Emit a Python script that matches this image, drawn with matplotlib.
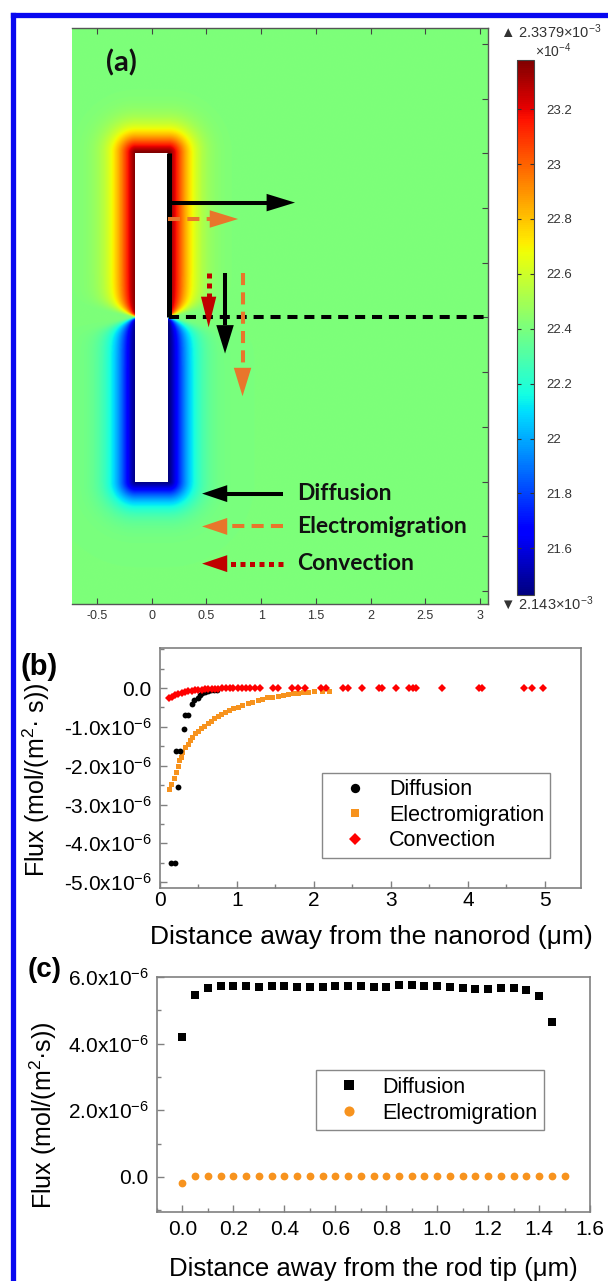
import numpy as np
import matplotlib
matplotlib.use("Agg")
import matplotlib.pyplot as plt
from matplotlib.patches import Rectangle, Polygon
from matplotlib.lines import Line2D
from matplotlib.ticker import MultipleLocator

plt.rcParams['font.family'] = ['Liberation Sans', 'DejaVu Sans']
plt.rcParams['mathtext.default'] = 'regular'

W, H = 608, 1281

# ---- panel (a): concentration map (x1e-4 mol/m3) ----
c_min, c_max, c_mid = 21.43, 23.379, 22.405
rod_w, rod_h = 0.15, 1.5          # half width / half height of the nanorod
halo = 0.17                        # decay length of the halo
cbar_ticks = [21.6, 21.8, 22.0, 22.2, 22.4, 22.6, 22.8, 23.0, 23.2]
cbar_labels = ['21.6', '21.8', '22', '22.2', '22.4', '22.6', '22.8', '23', '23.2']
xticks_a = [-0.5, 0, 0.5, 1, 1.5, 2, 2.5, 3]
xlabels_a = ['-0.5', '0', '0.5', '1', '1.5', '2', '2.5', '3']

# flux arrows drawn on the map: tail x, tail y, tip x, tip y
arr_diff = [(0.15, 1.05, 1.31, 1.05), (0.67, 0.41, 0.67, -0.33)]
arr_elec = [(0.15, 0.90, 0.79, 0.90), (0.83, 0.41, 0.83, -0.72)]
arr_conv = [(0.52, 0.41, 0.52, -0.09)]
leg_a_names = ['Diffusion', 'Electromigration', 'Convection']
leg_a_y = [-1.61, -1.91, -2.25]

# ---- panel (b): flux vs distance from nanorod (x1e-6) ----
diff_b_x = [0.14, 0.19, 0.23, 0.21, 0.26, 0.31, 0.32, 0.37, 0.41, 0.44, 0.49,
            0.52, 0.55, 0.59, 0.62, 0.66, 0.70, 0.74]
diff_b_y = [-4.50, -4.50, -2.54, -1.62, -1.62, -1.06, -0.69, -0.69, -0.42, -0.30,
            -0.26, -0.17, -0.13, -0.10, -0.08, -0.06, -0.05, -0.04]
elec_b_x = [0.12, 0.14, 0.18, 0.21, 0.23, 0.25, 0.27, 0.29, 0.33, 0.36, 0.39, 0.42,
            0.46, 0.49, 0.53, 0.57, 0.62, 0.66, 0.70, 0.75, 0.79, 0.85, 0.90, 0.95,
            1.01, 1.07, 1.14, 1.20, 1.27, 1.33, 1.39, 1.46, 1.53, 1.60, 1.66, 1.73,
            1.79, 1.86, 1.92, 2.00, 2.10, 2.20]
elec_b_y = [-2.60, -2.47, -2.31, -2.16, -2.02, -1.86, -1.77, -1.65, -1.53, -1.43,
            -1.34, -1.26, -1.17, -1.10, -1.04, -0.97, -0.91, -0.84, -0.78, -0.72,
            -0.67, -0.62, -0.56, -0.52, -0.48, -0.43, -0.39, -0.35, -0.30, -0.28,
            -0.24, -0.23, -0.20, -0.18, -0.16, -0.14, -0.13, -0.11, -0.10, -0.09,
            -0.08, -0.07]
conv_b_x = [0.12, 0.15, 0.19, 0.24, 0.28, 0.32, 0.37, 0.41, 0.45, 0.50, 0.54, 0.58,
            0.63, 0.67, 0.71, 0.76, 0.80, 0.86, 0.91, 0.95, 1.01, 1.06, 1.12, 1.17,
            1.23, 1.30, 1.47, 1.53, 1.71, 1.79, 1.88, 2.09, 2.16, 2.38, 2.44, 2.63,
            2.85, 2.89, 3.06, 3.24, 3.29, 3.33, 3.67, 4.14, 4.18, 4.73, 4.83, 4.98]
conv_b_y = [-0.27, -0.24, -0.19, -0.15, -0.12, -0.10, -0.08, -0.07, -0.06, -0.05,
            -0.04, -0.03, -0.03, -0.02, -0.02, -0.02, -0.01, -0.01, -0.01, -0.01,
            0, 0, 0, 0, 0, 0, 0, 0, 0, 0, 0, 0, 0, 0, 0, 0, 0, 0, 0, 0, 0, 0, 0, 0,
            0, 0, 0, 0]
yticks_b = [-5, -4, -3, -2, -1, 0]
ylabels_b = ['-5.0x10$^{-6}$', '-4.0x10$^{-6}$', '-3.0x10$^{-6}$', '-2.0x10$^{-6}$',
             '-1.0x10$^{-6}$', '0.0']

# ---- panel (c): flux vs distance from rod tip (x1e-6) ----
diff_c_x = [0.00, 0.05, 0.10, 0.15, 0.20, 0.25, 0.30, 0.35, 0.40, 0.45, 0.50, 0.55,
            0.60, 0.65, 0.70, 0.75, 0.80, 0.85, 0.90, 0.95, 1.00, 1.05, 1.10, 1.15,
            1.20, 1.25, 1.30, 1.35, 1.40, 1.45]
diff_c_y = [4.21, 5.46, 5.66, 5.73, 5.73, 5.73, 5.71, 5.73, 5.73, 5.71, 5.71, 5.71,
            5.73, 5.73, 5.73, 5.71, 5.71, 5.75, 5.75, 5.73, 5.73, 5.71, 5.68, 5.65,
            5.65, 5.68, 5.67, 5.60, 5.43, 4.66]
elec_c_x = [0.00, 0.05, 0.10, 0.15, 0.20, 0.25, 0.30, 0.35, 0.40, 0.45, 0.50, 0.55,
            0.60, 0.65, 0.70, 0.75, 0.80, 0.85, 0.90, 0.95, 1.00, 1.05, 1.10, 1.15,
            1.20, 1.25, 1.30, 1.35, 1.40, 1.45, 1.50]
elec_c_y = [-0.17, 0.02, 0.02, 0.02, 0.02, 0.02, 0.02, 0.02, 0.02, 0.02, 0.02, 0.02,
            0.02, 0.02, 0.02, 0.02, 0.02, 0.02, 0.02, 0.02, 0.02, 0.02, 0.02, 0.02,
            0.02, 0.02, 0.02, 0.02, 0.02, 0.02, 0.02]
yticks_c = [0, 2, 4, 6]
ylabels_c = ['0.0', '2.0x10$^{-6}$', '4.0x10$^{-6}$', '6.0x10$^{-6}$']
xticks_c = [0.0, 0.2, 0.4, 0.6, 0.8, 1.0, 1.2, 1.4, 1.6]

BLACK = 'black'
ORANGE = '#E8762B'
DKRED = '#C00000'
ORANGE_PT = '#F7931E'


def px_rect(x0, y0, x1, y1):
    return [x0 / W, 1 - y1 / H, (x1 - x0) / W, (y1 - y0) / H]


def arrow(ax, x0, y0, x1, y1, color, lw, dashes=None, hl=0.26, hw=0.16):
    d = np.array([x1 - x0, y1 - y0])
    u = d / np.hypot(*d)
    base = np.array([x1, y1]) - u * hl
    kw = dict(color=color, lw=lw, solid_capstyle='butt', dash_capstyle='butt', zorder=5)
    if dashes is not None:
        kw['dashes'] = dashes
    ax.plot([x0, base[0]], [y0, base[1]], **kw)
    p = np.array([-u[1], u[0]])
    tri = [[x1, y1], list(base + p * hw / 2), list(base - p * hw / 2)]
    ax.add_patch(Polygon(tri, closed=True, color=color, lw=0, zorder=6))


fig = plt.figure(figsize=(W / 100, H / 100), dpi=100)

# ---------------- (a) ----------------
ax = fig.add_axes(px_rect(72, 28, 488, 604))
xs = np.linspace(-0.8, 3.1, 600)
ys = np.linspace(-2.7, 2.7, 900)
X, Y = np.meshgrid(xs, ys)
dx = np.clip(np.abs(X) - rod_w, 0, None)
dy = np.clip(np.abs(Y) - rod_h, 0, None)
dist = np.hypot(dx, dy)
L = halo * np.tanh(np.abs(Y) / 0.12) + 0.015
C = c_mid + (c_max - c_mid) * np.exp(-(dist / L) ** 1.4) * np.tanh(Y / 0.02)
im = ax.imshow(C, extent=[xs[0], xs[-1], ys[0], ys[-1]], origin='lower',
               cmap='jet', vmin=c_min, vmax=c_max, aspect='auto',
               interpolation='bilinear')
ax.add_patch(Rectangle((-rod_w, -rod_h), 2 * rod_w, 2 * rod_h, fc='white', ec='none', zorder=3))
ax.set_xlim(-0.729, 3.074)
ax.set_ylim(-2.619, 2.646)

# rod wall and dashed level line
ax.plot([0.16, 0.16], [rod_h, 0], color=BLACK, lw=3.6, solid_capstyle='butt', zorder=5)
ax.plot([0.16, 3.1], [0, 0], color=BLACK, lw=2.9, dashes=(2.5, 1.7), zorder=5)
for a in arr_diff:
    arrow(ax, *a, BLACK, 2.9)
for a in arr_elec:
    arrow(ax, *a, ORANGE, 2.9, dashes=(3, 1.8))
for a in arr_conv:
    arrow(ax, *a, DKRED, 3.6, dashes=(1.0, 1.0), hw=0.14, hl=0.28)

styles = [(BLACK, 2.9, None), (ORANGE, 2.9, (3, 1.8)), (DKRED, 3.6, (1.0, 0.9))]
for name, yy, (col, lw, ds) in zip(leg_a_names, leg_a_y, styles):
    arrow(ax, 1.20, yy, 0.46, yy, col, lw, dashes=ds, hl=0.23, hw=0.155)
    ax.text(1.33, yy, name, fontsize=16.5, fontweight='bold', color='#111111',
            family=['Lato', 'DejaVu Sans'], va='center', ha='left', zorder=7)
ax.text(-0.275, 2.33, '(a)', fontsize=21, fontweight='bold', color='#111111',
        family=['Lato', 'DejaVu Sans'], va='center', ha='center', zorder=7)

ax.set_xticks(xticks_a)
ax.set_xticklabels(xlabels_a)
ax.yaxis.set_major_locator(MultipleLocator(0.5))
ax.tick_params(axis='both', direction='in', length=4, width=0.8, color='#444444',
               labelsize=9, labelcolor='#333333', top=True, right=True, left=False,
               labelleft=False, pad=4)
for side in ['top', 'right', 'bottom']:
    ax.spines[side].set_color('#555555')
    ax.spines[side].set_linewidth(1.0)
ax.spines['left'].set_visible(False)

cax = fig.add_axes(px_rect(517, 60, 534, 595))
cb = fig.colorbar(im, cax=cax, ticks=cbar_ticks)
cb.set_ticklabels(cbar_labels)
cb.outline.set_edgecolor('#444444')
cb.outline.set_linewidth(0.8)
cax.tick_params(axis='y', direction='in', left=True, right=True, length=3,
                width=0.8, color='#333333', labelsize=9.5, labelcolor='#333333', pad=9)
fig.text(500 / W, 1 - 32 / H, '\u25B2 2.3379\u00d710$^{-3}$', fontsize=10.5,
         color='#333333', va='center', ha='left')
fig.text(553 / W, 1 - 51 / H, '\u00d710$^{-4}$', fontsize=10,
         color='#333333', va='center', ha='center')
fig.text(500 / W, 1 - 604 / H, '\u25BC 2.143\u00d710$^{-3}$', fontsize=10.5,
         color='#333333', va='center', ha='left')

# ---------------- (b) ----------------
axb = fig.add_axes(px_rect(160, 648, 581, 888))
axb.plot(elec_b_x, elec_b_y, 's', color=ORANGE_PT, ms=3.6, mew=0, label='Electromigration')
axb.plot(diff_b_x, diff_b_y, 'o', color=BLACK, ms=4.2, mew=0, label='Diffusion')
axb.plot(conv_b_x, conv_b_y, 'D', color='#FF0000', ms=3.8, mew=0, label='Convection')
axb.set_xlim(0, 5.47)
axb.set_ylim(-5.15, 1.03)
axb.set_xticks([0, 1, 2, 3, 4, 5])
axb.xaxis.set_minor_locator(MultipleLocator(0.5))
axb.set_yticks(yticks_b)
axb.set_yticklabels(ylabels_b)
axb.yaxis.set_minor_locator(MultipleLocator(0.5))
axb.set_xlabel('Distance away from the nanorod (\u03bcm)', fontsize=19)
axb.set_ylabel('Flux (mol/(m$^2$\u00b7 s))', fontsize=18)
axb.xaxis.set_label_coords(0.502, -0.155)
axb.yaxis.set_label_coords(-0.257, 0.45)
h, l = axb.get_legend_handles_labels()
order = [1, 0, 2]
axb.legend([h[i] for i in order], [l[i] for i in order], loc='upper left',
           bbox_to_anchor=(0.385, 0.479), borderaxespad=0, fontsize=15.5,
           frameon=True, fancybox=False, edgecolor='#888888', framealpha=1,
           handlelength=2.5, handletextpad=0.3, labelspacing=0.2, borderpad=0.3,
           markerscale=1.6)
fig.text(39 / W, 1 - 667 / H, '(b)', fontsize=21, fontweight='bold', va='center', ha='center')

# ---------------- (c) ----------------
axc = fig.add_axes(px_rect(157, 977, 590, 1212))
axc.plot(diff_c_x, diff_c_y, 's', color=BLACK, ms=5.2, mew=0, label='Diffusion')
axc.plot(elec_c_x, elec_c_y, 'o', color=ORANGE_PT, ms=5.6, mew=0, label='Electromigration')
axc.set_xlim(-0.1, 1.6)
axc.set_ylim(-1.05, 6.0)
axc.set_xticks(xticks_c)
axc.set_xticklabels(['%.1f' % v for v in xticks_c])
axc.xaxis.set_minor_locator(MultipleLocator(0.1))
axc.set_yticks(yticks_c)
axc.set_yticklabels(ylabels_c)
axc.yaxis.set_minor_locator(MultipleLocator(1))
axc.set_xlabel('Distance away from the rod tip (\u03bcm)', fontsize=18.5)
axc.set_ylabel('Flux (mol/(m$^2$\u00b7s))', fontsize=18)
axc.xaxis.set_label_coords(0.5, -0.19)
axc.yaxis.set_label_coords(-0.226, 0.41)
axc.legend(loc='upper left', bbox_to_anchor=(0.367, 0.604), borderaxespad=0,
           fontsize=15.5, frameon=True, fancybox=False, edgecolor='#888888',
           framealpha=1, handlelength=2.5, handletextpad=0.3, labelspacing=0.25,
           borderpad=0.3, markerscale=1.3)
fig.text(45 / W, 1 - 970 / H, '(c)', fontsize=20, fontweight='bold', va='center', ha='center')

for a in (axb, axc):
    for s in a.spines.values():
        s.set_color('#808080')
        s.set_linewidth(1.2)
    a.tick_params(which='major', direction='in', length=5, width=1, color='#808080',
                  labelsize=15, pad=6)
    a.tick_params(which='minor', direction='in', length=3, width=1, color='#808080')
axb.tick_params(axis='x', which='major', pad=2)

# blue frame (top and left)
fig.add_artist(Line2D([12.5 / W, 12.5 / W], [0, 1 - 14.5 / H], color='#0808F0',
                      lw=3.8, transform=fig.transFigure, solid_capstyle='projecting'))
fig.add_artist(Line2D([12.5 / W, 1], [1 - 14.5 / H, 1 - 14.5 / H], color='#0808F0',
                      lw=3.8, transform=fig.transFigure, solid_capstyle='projecting'))

fig.savefig('out.png', dpi=100)
